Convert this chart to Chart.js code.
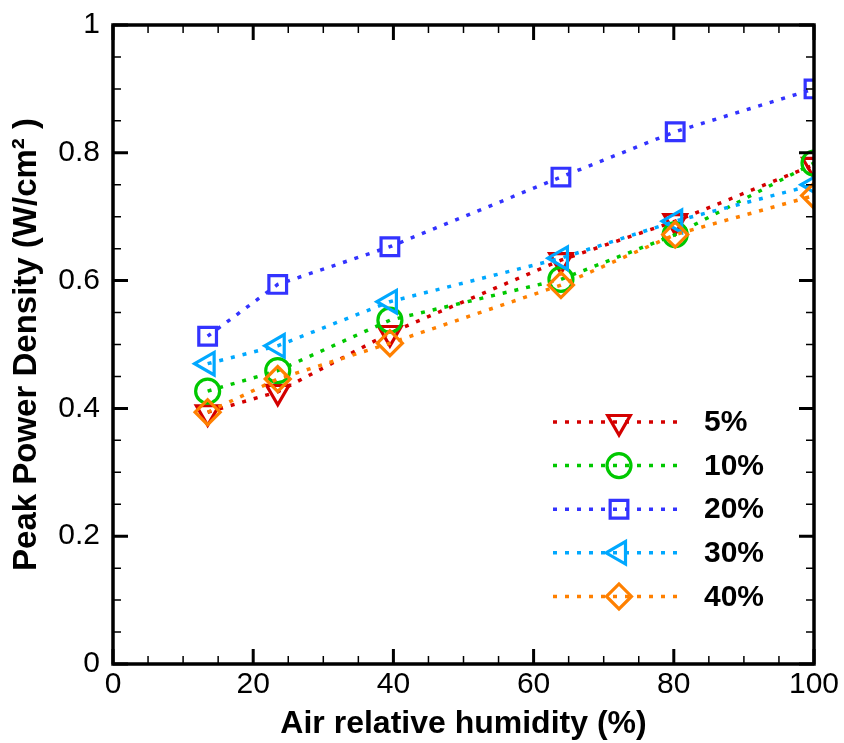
<!DOCTYPE html>
<html>
<head>
<meta charset="utf-8">
<script src="https://cdn.jsdelivr.net/npm/chart.js@4.4.1/dist/chart.umd.min.js"></script>
<style>
  html, body { margin: 0; padding: 0; background: #fff; }
  #wrap { width: 844px; height: 743px; }
</style>
</head>
<body>
<div id="wrap"><canvas id="chart" width="844" height="743"></canvas></div>
<script>
// humidity levels on the x axis (%)
const humidity = [13.5, 23.5, 39.5, 63.9, 80.2, 100];

// peak power density (W/cm2) for each series
const rh5  = [0.394, 0.426, 0.518, 0.632, 0.693, 0.781];
const rh10 = [0.427, 0.459, 0.538, 0.602, 0.672, 0.784];
const rh20 = [0.513, 0.594, 0.653, 0.762, 0.833, 0.900];
const rh30 = [0.470, 0.498, 0.567, 0.635, 0.693, 0.750];
const rh40 = [0.394, 0.446, 0.502, 0.593, 0.672, 0.733];

const seriesLabels = ["5%", "10%", "20%", "30%", "40%"];
const xMajorTicks = [0, 20, 40, 60, 80, 100];
const yMajorTicks = [0, 0.2, 0.4, 0.6, 0.8, 1];

const styles = [
    { color: "#d40000", pointStyle: "triangle", rotation: 180, radius: 13 },
    { color: "#00c800", pointStyle: "circle", rotation: 0, radius: 12 },
    { color: "#3333ff", pointStyle: "rect", rotation: 0, radius: 12.5 },
    { color: "#00a8ff", pointStyle: "triangle", rotation: 270, radius: 13 },
    { color: "#ff8000", pointStyle: "rectRot", rotation: 0, radius: 12.5 }
];

const FONT = "'Liberation Sans', Arial, sans-serif";
const DASH = [4, 8];

const toPoints = (vals) => vals.map((v, i) => ({ x: humidity[i], y: v }));

const datasets = [rh5, rh10, rh20, rh30, rh40].map((vals, i) => ({
    label: seriesLabels[i],
    data: toPoints(vals),
    borderColor: styles[i].color,
    borderWidth: 3.5,
    borderDash: DASH,
    pointStyle: styles[i].pointStyle,
    rotation: styles[i].rotation,
    pointRadius: styles[i].radius,
    pointHoverRadius: styles[i].radius,
    pointBorderWidth: 3.2,
    pointBorderColor: styles[i].color,
    pointBackgroundColor: "rgba(0,0,0,0)",
    fill: false,
    tension: 0,
    order: 5 - i
}));

const isMajor = (v, list) => list.some(m => Math.abs(m - v) < 1e-6);

// frame, inward ticks and the legend
const framePlugin = {
    id: "frame",
    afterDraw(chart) {
        const ctx = chart.ctx;
        const a = chart.chartArea;
        const xs = chart.scales.x, ys = chart.scales.y;
        ctx.save();
        ctx.strokeStyle = "#000";
        xs.ticks.forEach(t => {
            const px = xs.getPixelForValue(t.value);
            const major = isMajor(t.value, xMajorTicks);
            ctx.lineWidth = major ? 3 : 1.5;
            const len = major ? 15 : 8;
            ctx.beginPath();
            ctx.moveTo(px, a.bottom); ctx.lineTo(px, a.bottom - len);
            ctx.moveTo(px, a.top); ctx.lineTo(px, a.top + len);
            ctx.stroke();
        });
        ys.ticks.forEach(t => {
            const py = ys.getPixelForValue(t.value);
            const major = isMajor(t.value, yMajorTicks);
            ctx.lineWidth = major ? 3 : 1.5;
            const len = major ? 15 : 8;
            ctx.beginPath();
            ctx.moveTo(a.left, py); ctx.lineTo(a.left + len, py);
            ctx.moveTo(a.right, py); ctx.lineTo(a.right - len, py);
            ctx.stroke();
        });
        ctx.lineWidth = 3.5;
        ctx.strokeRect(a.left, a.top, a.right - a.left, a.bottom - a.top);

        // legend
        const lx0 = 553, lx1 = 677, mx = 619, tx = 704;
        chart.data.datasets.forEach((ds, i) => {
            const y = 422 + i * 43.6;
            ctx.save();
            ctx.strokeStyle = ds.borderColor;
            ctx.lineWidth = 3.5;
            ctx.setLineDash(DASH);
            ctx.beginPath();
            ctx.moveTo(lx0, y); ctx.lineTo(lx1, y);
            ctx.stroke();
            ctx.setLineDash([]);
            ctx.lineWidth = 3.2;
            ctx.fillStyle = "rgba(0,0,0,0)";
            Chart.helpers.drawPoint(ctx, {
                pointStyle: ds.pointStyle,
                rotation: ds.rotation,
                radius: ds.pointRadius,
                borderWidth: 3.2
            }, mx, y);
            ctx.fillStyle = "#000";
            ctx.font = "bold 30px " + FONT;
            ctx.textAlign = "left";
            ctx.textBaseline = "middle";
            ctx.fillText(ds.label, tx, y + 1);
            ctx.restore();
        });
        ctx.restore();
    }
};

new Chart(document.getElementById("chart"), {
    type: "line",
    data: { datasets },
    plugins: [framePlugin],
    options: {
        responsive: false,
        animation: false,
        devicePixelRatio: 1,
        layout: { padding: { left: 0, right: 30, top: 25, bottom: 0 } },
        plugins: { legend: { display: false }, tooltip: { enabled: false } },
        scales: {
            x: {
                type: "linear",
                min: 0, max: 100,
                afterFit(s) { s.height = 79; s.paddingLeft = 0; s.paddingRight = 0; },
                grid: { display: false, drawTicks: false },
                border: { display: false },
                ticks: {
                    stepSize: 5,
                    autoSkip: false,
                    maxRotation: 0,
                    padding: 3,
                    color: "#000",
                    font: { family: FONT, size: 30 },
                    callback: v => isMajor(v, xMajorTicks) ? String(v) : ""
                },
                title: {
                    display: true,
                    text: "Air relative humidity (%)",
                    color: "#000",
                    font: { family: FONT, size: 32, weight: "bold" },
                    padding: { top: 0, bottom: 0 }
                }
            },
            y: {
                type: "linear",
                min: 0, max: 1,
                afterFit(s) { s.width = 113; s.paddingTop = 0; s.paddingBottom = 0; },
                grid: { display: false, drawTicks: false },
                border: { display: false },
                ticks: {
                    stepSize: 0.05,
                    autoSkip: false,
                    padding: 13,
                    color: "#000",
                    font: { family: FONT, size: 30 },
                    callback: v => isMajor(v, yMajorTicks) ? String(Math.round(v * 10) / 10) : ""
                },
                title: {
                    display: true,
                    text: "Peak Power Density (W/cm\u00B2 )",
                    color: "#000",
                    font: { family: FONT, size: 33, weight: "bold" },
                    padding: { top: 7, bottom: 0 }
                }
            }
        }
    }
});
</script>
</body>
</html>
